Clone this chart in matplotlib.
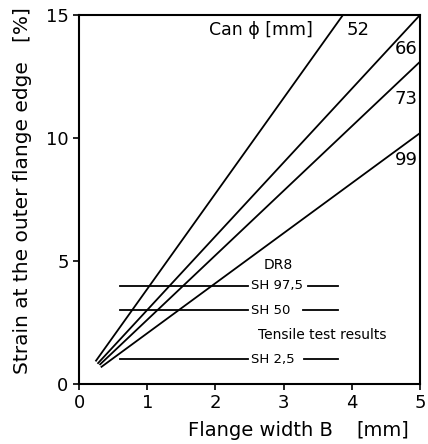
import matplotlib
matplotlib.use("Agg")
import matplotlib.pyplot as plt

# can diameters and the straight strain lines (start / end points)
diameters = ['52', '66', '73', '99']
x_start = [0.25, 0.28, 0.31, 0.33]
y_start = [0.95, 0.85, 0.80, 0.70]
x_end = [3.87, 5.0, 5.0, 5.0]
y_end = [15.0, 15.0, 13.1, 10.2]
label_y = [14.4, 13.6, 11.6, 9.1]

# tensile test results (DR8)
sh_labels = ['SH 97,5', 'SH 50', 'SH 2,5']
sh_values = [4.0, 3.0, 1.0]
seg2_start = [3.36, 3.28, 3.3]

plt.rcParams['font.family'] = 'DejaVu Sans'
fig = plt.figure(figsize=(4.28, 4.44), dpi=100)
ax = fig.add_axes([0.1846, 0.1351, 0.7967, 0.8311])

for d, x0, y0, x1, y1, ly in zip(diameters, x_start, y_start, x_end, y_end, label_y):
    ax.plot([x0, x1], [y0, y1], color='black', lw=1.3)
    if d == '52':
        ax.text(3.92, ly, d, fontsize=13, ha='left', va='center')
    else:
        ax.text(4.97, ly, d, fontsize=13, ha='right', va='center')

ax.text(3.43, 14.4, 'Can ϕ [mm]', fontsize=12.5, ha='right', va='center')

for lab, v, s2 in zip(sh_labels, sh_values, seg2_start):
    ax.plot([0.6, 2.48], [v, v], color='black', lw=1.3)
    ax.text(2.52, v, lab, fontsize=9.5, ha='left', va='center')
    ax.plot([s2, 3.8], [v, v], color='black', lw=1.3)

ax.text(2.7, 4.85, 'DR8', fontsize=10, ha='left', va='center')
ax.text(2.62, 2.0, 'Tensile test results', fontsize=10, ha='left', va='center')

ax.set_xlim(0, 5)
ax.set_ylim(0, 15)
ax.set_xticks([0, 1, 2, 3, 4, 5])
ax.set_yticks([0, 5, 10, 15])
ax.tick_params(direction='out', length=4, width=1.2, labelsize=13)
for s in ax.spines.values():
    s.set_linewidth(1.5)

# axis titles placed like in the original drawing
fig.text(260 / 428, 1 - 430 / 444, 'Flange width B', fontsize=14, ha='center', va='center')
fig.text(383 / 428, 1 - 430 / 444, '[mm]', fontsize=14, ha='center', va='center')
fig.text(23 / 428, 1 - 191 / 444, 'Strain at the outer flange edge   [%]',
         fontsize=14.5, rotation=90, ha='center', va='center')

fig.savefig('out.png', dpi=100)
